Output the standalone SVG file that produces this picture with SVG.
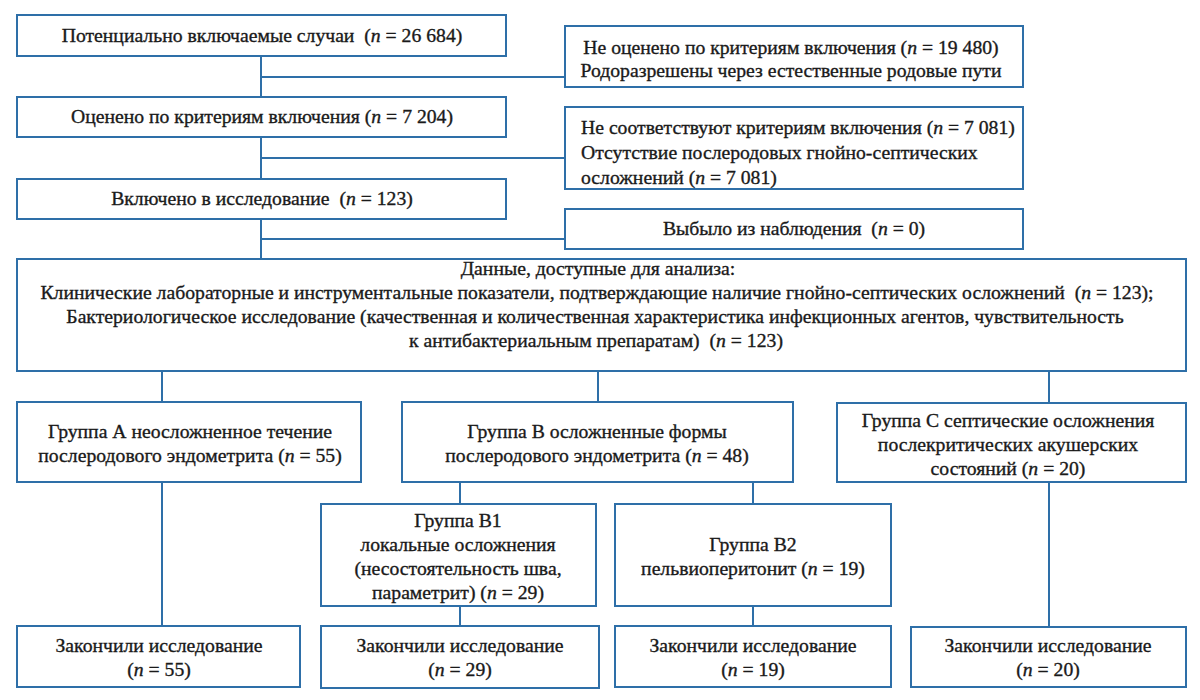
<svg xmlns="http://www.w3.org/2000/svg" width="1200" height="700" viewBox="0 0 1200 700">
<style>
.box{fill:#ffffff;stroke:#2E6FA8;stroke-width:2}
.ln{fill:none;stroke:#2E6FA8;stroke-width:2}
text{font-family:"Liberation Serif","Times New Roman",serif;font-size:19.7px;fill:#1a1a1a;stroke:#1a1a1a;stroke-width:0.35}
.c{text-anchor:middle}
.i{font-style:italic}
</style>
<rect width="1200" height="700" fill="#ffffff"/>
<g id="connectors">
<path class="ln" d="M261 56V97M261 77H565M261 137V179M261 158H565M261 219V259M261 239H565"/>
<path class="ln" d="M162 371V402M598 371V402M1049 371V403"/>
<path class="ln" d="M162 482V626M460 482V504M753 482V504M460 606V626M753 606V626M1049 482V627"/>
</g>
<g id="n1"><rect class="box" x="17" y="15" width="489" height="41"/>
<text class="c" x="262" y="42" xml:space="preserve">Потенциально включаемые случаи  (<tspan class="i">n</tspan> = 26 684)</text></g>
<g id="n2"><rect class="box" x="17" y="97" width="489" height="40"/>
<text class="c" x="262" y="123">Оценено по критериям включения (<tspan class="i">n</tspan> = 7 204)</text></g>
<g id="n3"><rect class="box" x="17" y="179" width="489" height="40"/>
<text class="c" x="262" y="205" xml:space="preserve">Включено в исследование  (<tspan class="i">n</tspan> = 123)</text></g>
<g id="r1"><rect class="box" x="565" y="26" width="458" height="61"/>
<text class="c" x="791" y="54">Не оценено по критериям включения (<tspan class="i">n</tspan> = 19 480)</text>
<text class="c" x="791" y="77">Родоразрешены через естественные родовые пути</text></g>
<g id="r2"><rect class="box" x="565" y="107" width="458" height="82"/>
<text x="581" y="134">Не соответствуют критериям включения (<tspan class="i">n</tspan> = 7 081)</text>
<text x="581" y="159">Отсутствие послеродовых гнойно-септических</text>
<text x="581" y="184">осложнений (<tspan class="i">n</tspan> = 7 081)</text></g>
<g id="r3"><rect class="box" x="565" y="209" width="458" height="40"/>
<text class="c" x="794" y="235" xml:space="preserve">Выбыло из наблюдения  (<tspan class="i">n</tspan> = 0)</text></g>
<g id="data"><rect class="box" x="17" y="259" width="1169" height="112"/>
<text class="c" x="598" y="275">Данные, доступные для анализа:</text>
<text class="c" x="597" y="299" xml:space="preserve">Клинические лабораторные и инструментальные показатели, подтверждающие наличие гнойно-септических осложнений  (<tspan class="i">n</tspan> = 123);</text>
<text class="c" x="595" y="323">Бактериологическое исследование (качественная и количественная характеристика инфекционных агентов, чувствительность</text>
<text class="c" x="596" y="347" xml:space="preserve">к антибактериальным препаратам)  (<tspan class="i">n</tspan> = 123)</text></g>
<g id="gA"><rect class="box" x="17" y="402" width="344" height="80"/>
<text class="c" x="190" y="438">Группа А неосложненное течение</text>
<text class="c" x="190" y="462">послеродового эндометрита (<tspan class="i">n</tspan> = 55)</text></g>
<g id="gB"><rect class="box" x="402" y="402" width="391" height="80"/>
<text class="c" x="597" y="438">Группа В осложненные формы</text>
<text class="c" x="597" y="462">послеродового эндометрита (<tspan class="i">n</tspan> = 48)</text></g>
<g id="gC"><rect class="box" x="837" y="403" width="349" height="79"/>
<text class="c" x="1008" y="427">Группа С септические осложнения</text>
<text class="c" x="1008" y="451">послекритических акушерских</text>
<text class="c" x="1008" y="475">состояний (<tspan class="i">n</tspan> = 20)</text></g>
<g id="gB1"><rect class="box" x="321" y="504" width="275" height="102"/>
<text class="c" x="458" y="527">Группа В1</text>
<text class="c" x="458" y="551">локальные осложнения</text>
<text class="c" x="458" y="575">(несостоятельность шва,</text>
<text class="c" x="458" y="599">параметрит) (<tspan class="i">n</tspan> = 29)</text></g>
<g id="gB2"><rect class="box" x="615" y="504" width="276" height="102"/>
<text class="c" x="753" y="551">Группа В2</text>
<text class="c" x="753" y="575">пельвиоперитонит (<tspan class="i">n</tspan> = 19)</text></g>
<g id="eA"><rect class="box" x="17" y="626" width="283" height="61"/>
<text class="c" x="159" y="652">Закончили исследование</text>
<text class="c" x="159" y="676">(<tspan class="i">n</tspan> = 55)</text></g>
<g id="eB1"><rect class="box" x="321" y="626" width="278" height="62"/>
<text class="c" x="460" y="652">Закончили исследование</text>
<text class="c" x="460" y="676">(<tspan class="i">n</tspan> = 29)</text></g>
<g id="eB2"><rect class="box" x="615" y="626" width="276" height="61"/>
<text class="c" x="753" y="652">Закончили исследование</text>
<text class="c" x="753" y="676">(<tspan class="i">n</tspan> = 19)</text></g>
<g id="eC"><rect class="box" x="911" y="627" width="275" height="60"/>
<text class="c" x="1048" y="652">Закончили исследование</text>
<text class="c" x="1048" y="676">(<tspan class="i">n</tspan> = 20)</text></g>
</svg>
